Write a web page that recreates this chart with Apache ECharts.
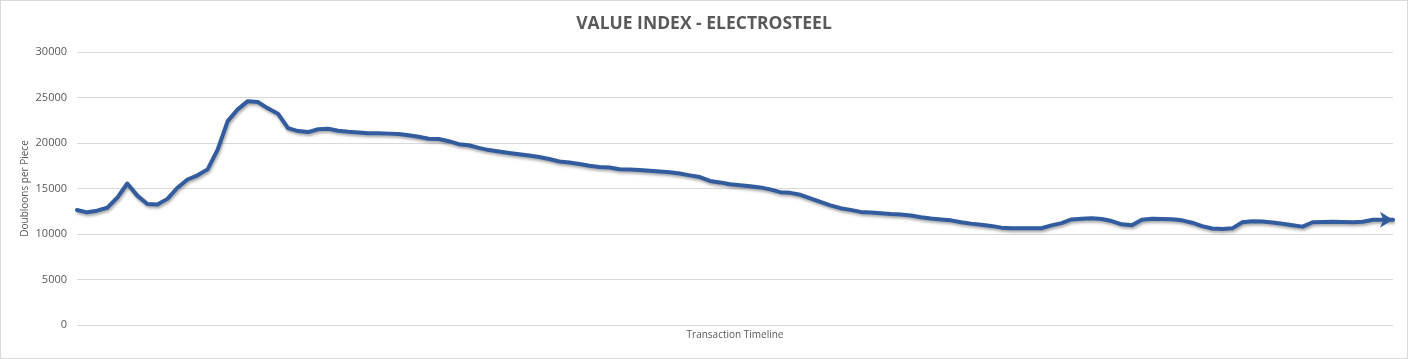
<!DOCTYPE html>
<html>
<head>
<meta charset="utf-8">
<script src="https://cdn.jsdelivr.net/npm/echarts@6/dist/echarts.min.js"></script>
<style>
html,body{margin:0;padding:0;background:#fff;}
#wrap{width:1408px;height:359px;box-sizing:border-box;border:1px solid #d9d9d9;position:relative;}
#chart{position:absolute;left:-1px;top:-1px;width:1408px;height:359px;}
</style>
</head>
<body>
<div id="wrap"><div id="chart"></div></div>
<script>
var chartTitle = 'VALUE INDEX - ELECTROSTEEL';
var yAxisName = 'Doubloons per Piece';
var xAxisName = 'Transaction Timeline';
var yTicks = [0, 5000, 10000, 15000, 20000, 25000, 30000];
var values = [
  12640, 12380, 12560, 12880, 13980, 15550, 14220, 13300, 13230, 13860,
  15080, 15990, 16450, 17100, 19280, 22400, 23700, 24600, 24500, 23810,
  23220, 21640, 21310, 21200, 21510, 21560, 21340, 21230, 21150, 21080,
  21080, 21030, 20980, 20840, 20680, 20460, 20440, 20200, 19870, 19750,
  19460, 19220, 19070, 18910, 18760, 18630, 18460, 18240, 17970, 17860,
  17690, 17500, 17370, 17300, 17110, 17080, 17030, 16950, 16860, 16780,
  16640, 16440, 16260, 15830, 15670, 15470, 15360, 15250, 15120, 14900,
  14600, 14520, 14310, 13920, 13520, 13150, 12840, 12650, 12430, 12360,
  12290, 12200, 12140, 12040, 11840, 11700, 11600, 11500, 11290, 11140,
  11020, 10890, 10700, 10630, 10630, 10630, 10630, 10950, 11200, 11600,
  11680, 11720, 11640, 11420, 11060, 10950, 11570, 11680, 11650, 11620,
  11500, 11240, 10860, 10600, 10550, 10620, 11290, 11410, 11380, 11270,
  11130, 10960, 10810, 11290, 11320, 11350, 11320, 11290, 11350, 11570,
  11570, 11570
];
var categories = values.map(function (v, i) { return String(i + 1); });

var seriesData = values.map(function (v, i) {
  if (i === values.length - 1) {
    return { value: v, symbol: 'arrow', symbolSize: [12, 13], symbolRotate: -90 };
  }
  return { value: v, symbol: 'none' };
});

var chart = echarts.init(document.getElementById('chart'), null, { renderer: 'canvas' });
chart.setOption({
  backgroundColor: 'transparent',
  animation: false,
  title: {
    text: chartTitle,
    left: 'center',
    top: 10,
    textStyle: { fontFamily: 'Open Sans', fontWeight: 'bold', fontSize: 17.5, color: '#595959' }
  },
  grid: { left: 77, right: 15, top: 52, bottom: 34, containLabel: false },
  xAxis: {
    type: 'category',
    data: categories,
    boundaryGap: false,
    axisLine: { show: false },
    axisTick: { show: false },
    axisLabel: { show: false },
    splitLine: { show: false },
    name: xAxisName,
    nameLocation: 'middle',
    nameGap: 5,
    nameTextStyle: { fontFamily: 'Open Sans', fontSize: 10, color: '#595959', verticalAlign: 'top' }
  },
  yAxis: {
    type: 'value',
    min: yTicks[0],
    max: yTicks[yTicks.length - 1],
    interval: yTicks[1] - yTicks[0],
    axisLine: { show: false },
    axisTick: { show: false },
    axisLabel: {
      fontFamily: 'Open Sans', fontSize: 11, color: '#595959', margin: 10,
      formatter: function (v) { return String(v); }
    },
    splitLine: { lineStyle: { color: '#d9d9d9', width: 1 } },
    name: yAxisName,
    nameLocation: 'middle',
    nameGap: 47,
    nameMoveOverlap: false,
    nameRotate: 90,
    nameTextStyle: { fontFamily: 'Open Sans', fontSize: 10, color: '#595959' }
  },
  series: [{
    type: 'line',
    data: seriesData,
    showSymbol: true,
    showAllSymbol: true,
    smooth: false,
    itemStyle: { color: '#335C9F' },
    lineStyle: {
      color: '#335C9F', width: 4, join: 'round', cap: 'round',
      shadowColor: 'rgba(0,0,0,0.35)', shadowBlur: 3, shadowOffsetX: 1, shadowOffsetY: 2
    }
  }]
});
</script>
</body>
</html>
